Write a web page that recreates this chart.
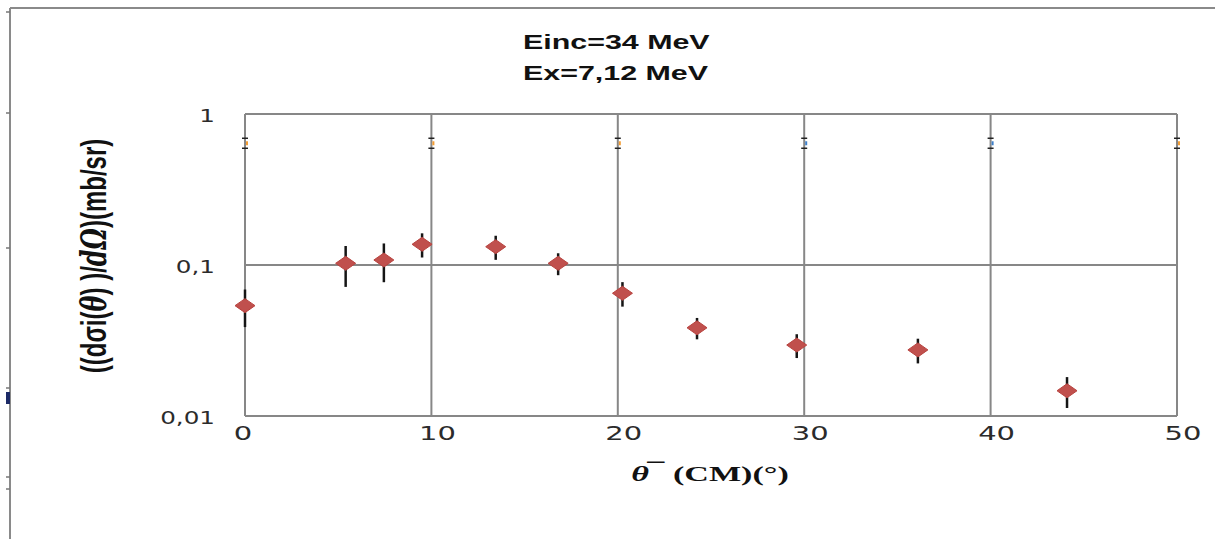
<!DOCTYPE html>
<html lang="en">
  <head>
    <meta charset="UTF-8" />
    <title>Einc=34 MeV, Ex=7,12 MeV</title>
    <script src="https://d3js.org/d3.v7.min.js"></script>
    <style>
      body {
        margin: 0;
        padding: 0;
        background: #ffffff;
      }
      svg {
        display: block;
      }
      .tick-label {
        font-family: "DejaVu Sans", Verdana, sans-serif;
        fill: #2b2b2b;
      }
      .title {
        font-family: "Liberation Sans", Arial, sans-serif;
        font-weight: bold;
        font-size: 20px;
        fill: #111;
      }
    </style>
  </head>
  <body>
    <div id="chart"></div>
    <script>
      const width = 1215;
      const height = 539;

      // angle in CM (deg), cross section (mb/sr), error (mb/sr)
      const angles = [0, 5.4, 7.45, 9.5, 13.45, 16.8, 20.25, 24.25, 29.6, 36.1, 44.1];
      const sigma = [0.0538, 0.1026, 0.1079, 0.1371, 0.1322, 0.1026, 0.065, 0.0384, 0.0295, 0.0274, 0.0147];
      const sigmaErr = [0.015, 0.031, 0.031, 0.025, 0.024, 0.017, 0.012, 0.0062, 0.0053, 0.0051, 0.0034];

      const xTicks = [0, 10, 20, 30, 40, 50];
      const yTicks = [0.01, 0.1, 1];
      const yTickLabels = ["0,01", "0,1", "1"];
      const titleLines = ["Einc=34 MeV", "Ex=7,12 MeV"];

      // leftover marks of a hidden series near the top of the plot
      const ghostX = [0, 10, 20, 30, 40, 50];
      const ghostY = 0.64;
      const ghostColors = ["#f39c32", "#f39c32", "#f39c32", "#3d7fc9", "#3d7fc9", "#f39c32"];

      const margin = { top: 114, right: 38, bottom: 123, left: 245 };
      const stretch = 1.45; // picture is widened horizontally

      const x = d3
        .scaleLinear()
        .domain([0, 50])
        .range([margin.left, width - margin.right]);
      const y = d3
        .scaleLog()
        .domain([0.01, 1])
        .range([height - margin.bottom, margin.top]);

      const svg = d3
        .select("#chart")
        .append("svg")
        .attr("width", width)
        .attr("height", height);

      // outer frame of the embedded chart
      svg.append("line").attr("x1", 10).attr("x2", width).attr("y1", 8).attr("y2", 8)
        .attr("stroke", "#8a8a8a").attr("stroke-width", 2);
      svg.append("line").attr("x1", 10).attr("x2", 10).attr("y1", 8).attr("y2", height)
        .attr("stroke", "#8a8a8a").attr("stroke-width", 2);
      [12, 113, 248, 388, 477, 489].forEach((ty) => {
        svg.append("line").attr("x1", 6).attr("x2", 10).attr("y1", ty).attr("y2", ty)
          .attr("stroke", "#777").attr("stroke-width", 1.5);
      });
      svg.append("rect").attr("x", 6).attr("y", 392).attr("width", 4).attr("height", 12)
        .attr("fill", "#1c2a66");

      const plot = svg.append("g");
      const gridColor = "#878787";

      // gridlines
      plot
        .selectAll(".vgrid")
        .data(xTicks)
        .enter()
        .append("line")
        .attr("x1", (d) => x(d))
        .attr("x2", (d) => x(d))
        .attr("y1", y(1))
        .attr("y2", y(0.01))
        .attr("stroke", gridColor)
        .attr("stroke-width", 2);

      plot
        .selectAll(".hgrid")
        .data(yTicks)
        .enter()
        .append("line")
        .attr("x1", x(0))
        .attr("x2", x(50))
        .attr("y1", (d) => y(d))
        .attr("y2", (d) => y(d))
        .attr("stroke", gridColor)
        .attr("stroke-width", 2);

      // small marks near the top
      ghostX.forEach((gx, i) => {
        const cx = x(gx);
        const cy = y(ghostY);
        plot.append("line").attr("x1", cx - 3).attr("x2", cx + 3).attr("y1", cy - 5).attr("y2", cy - 5)
          .attr("stroke", "#222").attr("stroke-width", 1.5);
        plot.append("line").attr("x1", cx - 3).attr("x2", cx + 3).attr("y1", cy + 5).attr("y2", cy + 5)
          .attr("stroke", "#222").attr("stroke-width", 1.5);
        plot.append("rect").attr("x", cx + 1).attr("y", cy - 2).attr("width", 2).attr("height", 4)
          .attr("fill", ghostColors[i]);
      });

      // error bars
      const points = angles.map((a, i) => ({ a: a, v: sigma[i], e: sigmaErr[i] }));

      plot
        .selectAll(".err")
        .data(points)
        .enter()
        .append("line")
        .attr("x1", (d) => x(d.a))
        .attr("x2", (d) => x(d.a))
        .attr("y1", (d) => y(d.v + d.e))
        .attr("y2", (d) => y(d.v - d.e))
        .attr("stroke", "#151515")
        .attr("stroke-width", 2.5);

      // diamond markers (wider than tall, like the stretched picture)
      plot
        .selectAll(".pt")
        .data(points)
        .enter()
        .append("path")
        .attr("d", "M0,-7L10,0L0,7L-10,0Z")
        .attr("transform", (d) => `translate(${x(d.a)},${y(d.v)})`)
        .attr("fill", "#c0504d")
        .attr("stroke", "#b8433f")
        .attr("stroke-width", 1);

      // y tick labels
      svg
        .selectAll(".ylab")
        .data(yTicks)
        .enter()
        .append("text")
        .attr("class", "tick-label")
        .attr("text-anchor", "end")
        .attr("font-size", "17px")
        .attr("transform", (d) => `translate(215,${y(d) + 8}) scale(${stretch},1)`)
        .text((d, i) => yTickLabels[i]);

      // x tick labels
      svg
        .selectAll(".xlab")
        .data(xTicks)
        .enter()
        .append("text")
        .attr("class", "tick-label")
        .attr("text-anchor", "middle")
        .attr("font-size", "20px")
        .attr("transform", (d) => `translate(${x(d) + (d === 0 ? -2 : 6)},${y(0.01) + 24}) scale(${stretch},1)`)
        .text((d) => d);

      // title
      svg
        .selectAll(".title")
        .data(titleLines)
        .enter()
        .append("text")
        .attr("class", "title")
        .attr("transform", (d, i) => `translate(523,${49 + i * 31}) scale(1.52,1)`)
        .text((d) => d);

      // y axis title
      const yTitle = svg
        .append("text")
        .attr("transform", `translate(106,256) scale(${stretch},1) rotate(-90)`)
        .attr("text-anchor", "middle")
        .attr("font-family", "'Liberation Sans', Arial, sans-serif")
        .attr("font-weight", "bold")
        .attr("font-size", "24px")
        .attr("fill", "#111");
      yTitle.append("tspan").text("((dσi(");
      yTitle.append("tspan").attr("font-style", "italic").attr("font-family", "'DejaVu Serif', serif").text("θ");
      yTitle.append("tspan").text(") )/");
      yTitle.append("tspan").attr("font-style", "italic").attr("font-family", "'DejaVu Serif', serif").text("dΩ");
      yTitle.append("tspan").text(")(mb/sr)");

      // x axis title
      const xTitle = svg
        .append("text")
        .attr("transform", `translate(710,481) scale(1.55,1)`)
        .attr("text-anchor", "middle")
        .attr("font-family", "'Liberation Serif', 'Times New Roman', serif")
        .attr("font-weight", "bold")
        .attr("font-size", "22px")
        .attr("fill", "#111");
      xTitle.append("tspan").attr("font-style", "italic").text("θ");
      xTitle.append("tspan").attr("dx", -1).attr("dy", -4).text("¯");
      xTitle.append("tspan").attr("dy", 4).text("  (CM)(°)");
    </script>
  </body>
</html>
